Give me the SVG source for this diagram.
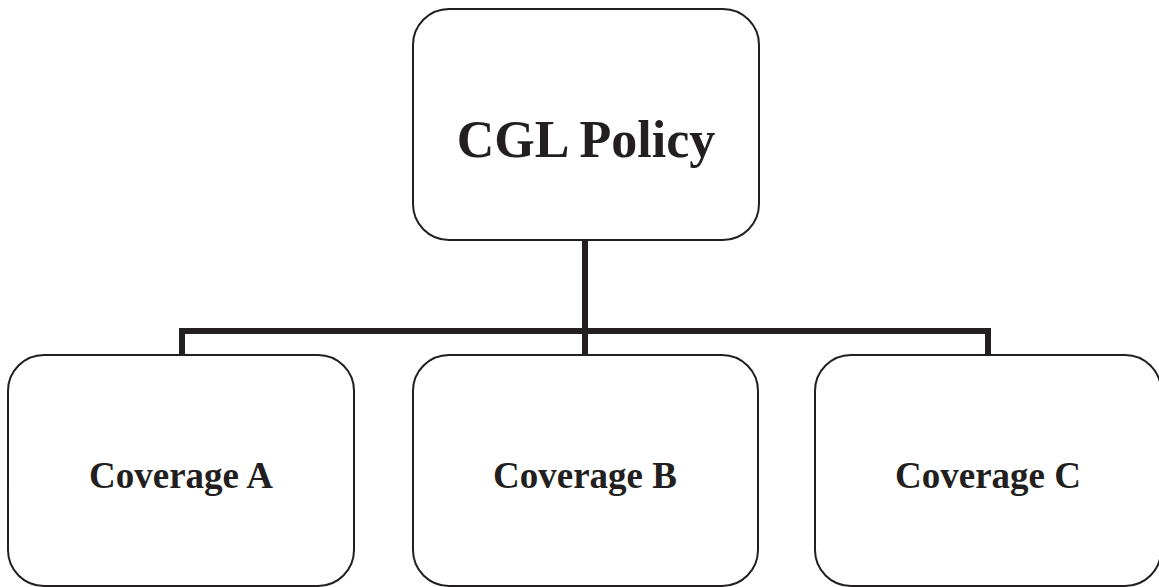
<svg xmlns="http://www.w3.org/2000/svg" width="1159" height="587" viewBox="0 0 1159 587">
<style>
.box{fill:#ffffff;stroke:#231f20;stroke-width:2}
.lbl{font-family:"Liberation Serif","Times New Roman",serif;font-weight:bold;fill:#231f20;text-anchor:middle}
.conn{fill:none;stroke:#231f20;stroke-width:6;stroke-linejoin:miter;stroke-linecap:butt}
</style>
<rect width="1159" height="587" fill="#ffffff"/>
<g id="connectors">
<path class="conn" d="M182,355 V331 H988 V355"/>
<path class="conn" d="M585,240 V355"/>
</g>
<g id="node-cgl">
<rect class="box" x="413" y="9" width="346" height="231" rx="36" ry="36"/>
<text class="lbl" x="586" y="157" font-size="52">CGL Policy</text>
</g>
<g id="node-a">
<rect class="box" x="8" y="355" width="346" height="231" rx="36" ry="36"/>
<text class="lbl" x="181" y="488" font-size="37">Coverage A</text>
</g>
<g id="node-b">
<rect class="box" x="413" y="355" width="345" height="231" rx="36" ry="36"/>
<text class="lbl" x="585" y="488" font-size="37">Coverage B</text>
</g>
<g id="node-c">
<rect class="box" x="815" y="355" width="346" height="231" rx="36" ry="36"/>
<text class="lbl" x="988" y="488" font-size="37">Coverage C</text>
</g>
</svg>
